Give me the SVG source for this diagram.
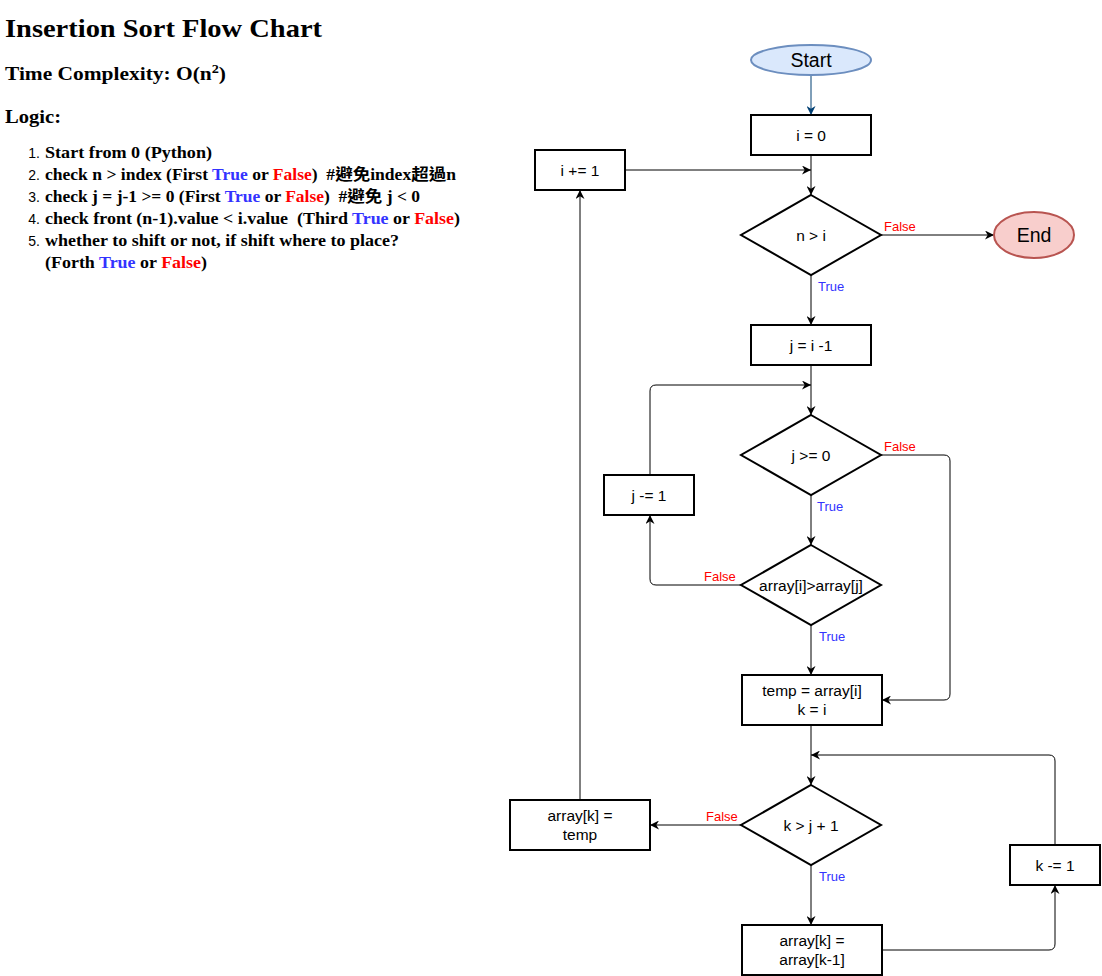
<svg xmlns="http://www.w3.org/2000/svg" width="1102" height="976" viewBox="0 0 1102 976">
<style>
.n{fill:#fff;stroke:#000;stroke-width:2}
.t{font-family:"Liberation Sans",Arial,sans-serif;font-size:15.5px;fill:#000;text-anchor:middle}
.big{font-size:19.5px}
.c{fill:none;stroke:#000;stroke-width:1}
.lt{font-family:"Liberation Sans",Arial,sans-serif;font-size:13px;fill:#3333ff}
.lf{font-family:"Liberation Sans",Arial,sans-serif;font-size:13px;fill:#ff0000}
.h{font-family:"Liberation Serif","Times New Roman","Noto Sans CJK TC",serif;font-weight:bold;fill:#000;white-space:pre}
.num{font-family:"Liberation Sans",Arial,sans-serif;font-size:14px;fill:#000;text-anchor:end}
.b{fill:#3333ff}
.r{fill:#ff0000}
</style>
<defs>
<marker id="a" viewBox="0 0 10 10" refX="10" refY="5" markerWidth="9" markerHeight="9" markerUnits="userSpaceOnUse" orient="auto">
<path d="M0,0 L10,5 L0,10 L3,5 z" fill="#000"/>
</marker>
<marker id="ab" viewBox="0 0 10 10" refX="10" refY="5" markerWidth="9" markerHeight="9" markerUnits="userSpaceOnUse" orient="auto">
<path d="M0,0 L10,5 L0,10 L3,5 z" fill="#003f73"/>
</marker>
</defs>
<rect width="1102" height="976" fill="#fff"/>

<g id="text-panel">
<text class="h" x="5" y="37" font-size="25" textLength="317" lengthAdjust="spacingAndGlyphs">Insertion Sort Flow Chart</text>
<text class="h" x="5" y="80" font-size="18" textLength="221" lengthAdjust="spacingAndGlyphs">Time Complexity: O(n<tspan font-size="12" dy="-7">2</tspan><tspan dy="7">)</tspan></text>
<text class="h" x="5" y="123" font-size="18" textLength="56" lengthAdjust="spacingAndGlyphs">Logic:</text>
<text class="num" x="40" y="158">1.</text>
<text class="num" x="40" y="180">2.</text>
<text class="num" x="40" y="202">3.</text>
<text class="num" x="40" y="224">4.</text>
<text class="num" x="40" y="246">5.</text>
<text class="h" x="45" y="158" font-size="16" textLength="167" lengthAdjust="spacingAndGlyphs">Start from 0 (Python)</text>
<text class="h" x="45" y="180" font-size="16" textLength="411" lengthAdjust="spacingAndGlyphs">check n &gt; index (First <tspan class="b">True</tspan> or <tspan class="r">False</tspan>)  #避免index超過n</text>
<text class="h" x="45" y="202" font-size="16" textLength="375" lengthAdjust="spacingAndGlyphs">check j = j-1 &gt;= 0 (First <tspan class="b">True</tspan> or <tspan class="r">False</tspan>)  #避免 j &lt; 0</text>
<text class="h" x="45" y="224" font-size="16" textLength="415" lengthAdjust="spacingAndGlyphs">check front (n-1).value &lt; i.value  (Third <tspan class="b">True</tspan> or <tspan class="r">False</tspan>)</text>
<text class="h" x="45" y="246" font-size="16" textLength="354" lengthAdjust="spacingAndGlyphs">whether to shift or not, if shift where to place?</text>
<text class="h" x="45" y="268" font-size="16" textLength="162" lengthAdjust="spacingAndGlyphs">(Forth <tspan class="b">True</tspan> or <tspan class="r">False</tspan>)</text>
</g>

<g id="connectors">
<line x1="811" y1="75" x2="811" y2="115" stroke="#003f73" stroke-width="1" marker-end="url(#ab)"/>
<line class="c" x1="811" y1="155" x2="811" y2="195" marker-end="url(#a)"/>
<line class="c" x1="625" y1="170" x2="811" y2="170" marker-end="url(#a)"/>
<line class="c" x1="881" y1="235" x2="994" y2="235" marker-end="url(#a)"/>
<text class="lf" x="884" y="231">False</text>
<line class="c" x1="811" y1="275" x2="811" y2="325" marker-end="url(#a)"/>
<text class="lt" x="818" y="291">True</text>
<line class="c" x1="811" y1="365" x2="811" y2="415" marker-end="url(#a)"/>
<path class="c" d="M650,475 L650,391 Q650,385 656,385 L811,385" marker-end="url(#a)"/>
<line class="c" x1="811" y1="495" x2="811" y2="545" marker-end="url(#a)"/>
<text class="lt" x="817" y="511">True</text>
<path class="c" d="M881,455 L944,455 Q950,455 950,461 L950,694 Q950,700 944,700 L882,700" marker-end="url(#a)"/>
<text class="lf" x="884" y="451">False</text>
<path class="c" d="M741,585 L656,585 Q650,585 650,579 L650,515" marker-end="url(#a)"/>
<text class="lf" x="704" y="581">False</text>
<line class="c" x1="811" y1="625" x2="811" y2="675" marker-end="url(#a)"/>
<text class="lt" x="819" y="641">True</text>
<line class="c" x1="811" y1="725" x2="811" y2="785" marker-end="url(#a)"/>
<path class="c" d="M1055,845 L1055,761 Q1055,755 1049,755 L811,755" marker-end="url(#a)"/>
<line class="c" x1="741" y1="825" x2="650" y2="825" marker-end="url(#a)"/>
<text class="lf" x="706" y="821">False</text>
<line class="c" x1="580" y1="800" x2="580" y2="190" marker-end="url(#a)"/>
<line class="c" x1="811" y1="865" x2="811" y2="925" marker-end="url(#a)"/>
<text class="lt" x="819" y="881">True</text>
<path class="c" d="M882,950 L1049,950 Q1055,950 1055,944 L1055,885" marker-end="url(#a)"/>
</g>

<g id="start"><ellipse cx="811" cy="60" rx="60" ry="15" fill="#dae8fc" stroke="#6c8ebf" stroke-width="2"/><text class="t big" x="811" y="67">Start</text></g>
<g id="i0"><rect class="n" x="751" y="115" width="120" height="40"/><text class="t" x="811" y="141">i = 0</text></g>
<g id="iinc"><rect class="n" x="535" y="150" width="90" height="40"/><text class="t" x="580" y="176">i += 1</text></g>
<g id="cond-n"><polygon class="n" points="811,195 881,235 811,275 741,235"/><text class="t" x="811" y="241">n &gt; i</text></g>
<g id="end"><ellipse cx="1034" cy="235" rx="40" ry="23" fill="#f8cecc" stroke="#b85450" stroke-width="2"/><text class="t big" x="1034" y="242">End</text></g>
<g id="j-init"><rect class="n" x="751" y="325" width="120" height="40"/><text class="t" x="811" y="351">j = i -1</text></g>
<g id="cond-j"><polygon class="n" points="811,415 881,455 811,495 741,455"/><text class="t" x="811" y="461">j &gt;= 0</text></g>
<g id="jdec"><rect class="n" x="604" y="475" width="90" height="40"/><text class="t" x="649" y="501">j -= 1</text></g>
<g id="cond-arr"><polygon class="n" points="811,545 881,585 811,625 741,585"/><text class="t" x="811" y="591">array[i]&gt;array[j]</text></g>
<g id="temp"><rect class="n" x="742" y="675" width="140" height="50"/><text class="t" x="812" y="696">temp = array[i]</text><text class="t" x="812" y="715">k = i</text></g>
<g id="cond-k"><polygon class="n" points="811,785 881,825 811,865 741,825"/><text class="t" x="811" y="831">k &gt; j + 1</text></g>
<g id="place"><rect class="n" x="510" y="800" width="140" height="50"/><text class="t" x="580" y="821">array[k] =</text><text class="t" x="580" y="840">temp</text></g>
<g id="kdec"><rect class="n" x="1010" y="845" width="90" height="40"/><text class="t" x="1055" y="871">k -= 1</text></g>
<g id="shift"><rect class="n" x="742" y="925" width="140" height="50"/><text class="t" x="812" y="946">array[k] =</text><text class="t" x="812" y="965">array[k-1]</text></g>
</svg>
